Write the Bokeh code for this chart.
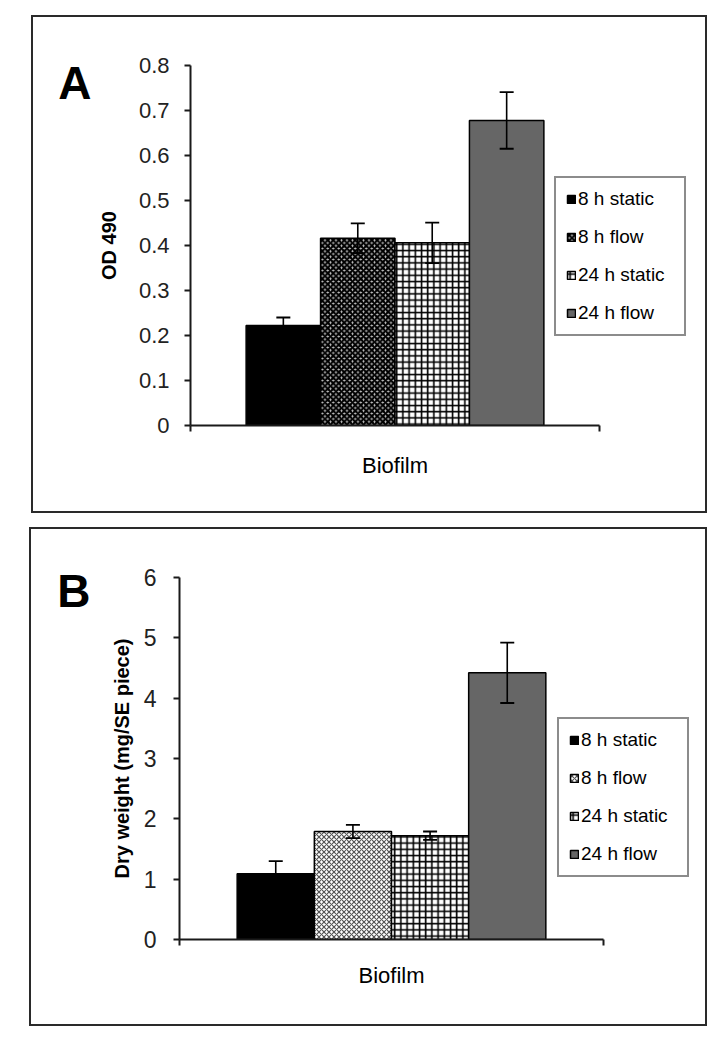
from bokeh.plotting import figure
from bokeh.models import (Range1d, FixedTicker, Legend, LegendItem, Whisker, TeeHead,
                          ColumnDataSource, LinearAxis)
from bokeh.embed import file_html
from bokeh.resources import INLINE

# ---------------- data ----------------
groups = ["8 h static", "8 h flow", "24 h static", "24 h flow"]
category = "Biofilm"

od490 = [0.222, 0.416, 0.406, 0.678]
od490_err = [0.018, 0.033, 0.045, 0.063]

dry_weight = [1.09, 1.79, 1.72, 4.42]
dry_weight_err = [0.21, 0.11, 0.07, 0.50]

ticks_a = [0, 0.1, 0.2, 0.3, 0.4, 0.5, 0.6, 0.7, 0.8]
tick_labels_a = ["0", "0.1", "0.2", "0.3", "0.4", "0.5", "0.6", "0.7", "0.8"]
ticks_b = [0, 1, 2, 3, 4, 5, 6]
tick_labels_b = ["0", "1", "2", "3", "4", "5", "6"]

# ---------------- styles ----------------
FONT = "Liberation Sans"
INK = "#1a1a1a"
BAR_W = 0.182

styles_a = [
    dict(fill_color="black"),
    dict(fill_color="#c4c4c4", hatch_pattern="diagonal_cross", hatch_color="black",
         hatch_weight=2.2, hatch_scale=5.5),
    dict(fill_color="white", hatch_pattern="cross", hatch_color="black",
         hatch_weight=1.6, hatch_scale=6.2),
    dict(fill_color="#666666"),
]
styles_b = [
    dict(fill_color="black"),
    dict(fill_color="white", hatch_pattern="diagonal_cross", hatch_color="#555555",
         hatch_weight=1.2, hatch_scale=5.0),
    dict(fill_color="white", hatch_pattern="cross", hatch_color="black",
         hatch_weight=1.6, hatch_scale=6.2),
    dict(fill_color="#666666"),
]


def make_panel(vals, errs, ymax, ticks, tick_labels, ylabel, letter, letter_frac, bar_styles,
               width, height, bl, bt, fw_axis, fw, fh, legend_loc, letter_standoff,
               tick_size, ylabel_standoff, tick_standoff, xlabel_standoff, margin):
    p = figure(width=width, height=height, output_backend="svg", toolbar_location=None,
               x_range=Range1d(0, fw / fw_axis), y_range=Range1d(0, ymax),
               min_border_left=bl, min_border_top=bt,
               min_border_right=width - bl - fw, min_border_bottom=height - bt - fh,
               frame_width=fw, frame_height=fh,
               background_fill_color="white", border_fill_color="white")
    p.margin = margin
    p.styles = {"border": "2px solid #2a2a2a"}
    p.outline_line_color = None
    p.xgrid.visible = False
    p.ygrid.visible = False

    items = []
    for i, g in enumerate(groups):
        src = ColumnDataSource(dict(x=[0.5 + (i - 1.5) * BAR_W], top=[vals[i]]))
        r = p.vbar(x="x", top="top", width=BAR_W, source=src,
                   line_color="black", line_width=1.5, **bar_styles[i])
        items.append(LegendItem(label=g, renderers=[r]))

    wsrc = ColumnDataSource(dict(
        base=[0.5 + (i - 1.5) * BAR_W for i in range(len(groups))],
        upper=[v + e for v, e in zip(vals, errs)],
        lower=[v - e for v, e in zip(vals, errs)]))
    w = Whisker(base="base", upper="upper", lower="lower", source=wsrc,
                line_color="black", line_width=1.6,
                upper_head=TeeHead(size=14, line_color="black", line_width=1.8),
                lower_head=TeeHead(size=14, line_color="black", line_width=1.8))
    w.level = "overlay"
    p.add_layout(w)

    # axes
    for ax in (p.xaxis[0], p.yaxis[0]):
        ax.axis_line_width = 2
        ax.axis_line_color = INK
        ax.major_tick_line_width = 2
        ax.major_tick_line_color = INK
        ax.major_tick_out = 6
        ax.major_tick_in = 0
        ax.major_label_text_font = FONT
        ax.axis_label_text_font = FONT
        ax.axis_label_text_color = "black"
        ax.major_label_text_color = "#222222"

    # category axis: one category label centred under the bars, boundary ticks at ends
    p.xaxis.bounds = (0, 1)
    p.xaxis.ticker = FixedTicker(ticks=[0.5], minor_ticks=[0, 1])
    p.xaxis.major_label_overrides = {0.5: category}
    p.xaxis.major_tick_line_color = None
    p.xaxis.major_tick_out = 0
    p.xaxis.major_label_text_font_size = "22px"
    p.xaxis.major_label_text_color = "black"
    p.xaxis.major_label_standoff = xlabel_standoff
    p.xaxis.minor_tick_line_color = INK
    p.xaxis.minor_tick_line_width = 2
    p.xaxis.minor_tick_out = 6
    p.xaxis.minor_tick_in = 0

    p.yaxis.minor_tick_line_color = None
    p.yaxis.ticker = FixedTicker(ticks=ticks)
    p.yaxis.major_label_overrides = {t: s for t, s in zip(ticks, tick_labels)}
    p.yaxis.major_label_text_font_size = tick_size
    p.yaxis.major_label_standoff = tick_standoff
    p.yaxis.axis_label = ylabel
    p.yaxis.axis_label_text_font_size = "20px"
    p.yaxis.axis_label_text_font_style = "bold"
    p.yaxis.axis_label_standoff = ylabel_standoff

    # panel letter, set as the single label of an outer left axis
    ly = ymax * letter_frac
    letter_axis = LinearAxis(ticker=FixedTicker(ticks=[ly]),
                             major_label_overrides={ly: letter},
                             axis_line_color=None, major_tick_line_color=None,
                             minor_tick_line_color=None, major_tick_out=0, major_tick_in=0,
                             major_label_text_font=FONT, major_label_text_font_size="46px",
                             major_label_text_font_style="bold",
                             major_label_text_color="black",
                             major_label_standoff=letter_standoff)
    p.add_layout(letter_axis, "left")

    legend = Legend(items=items, location=legend_loc,
                    label_text_font=FONT, label_text_font_size="19px",
                    label_text_color="black", label_width=96,
                    glyph_width=10, glyph_height=10, label_height=20,
                    label_standoff=2, spacing=16, padding=10, margin=0,
                    border_line_color=INK, border_line_width=2,
                    background_fill_color="white", background_fill_alpha=1)
    p.add_layout(legend)
    return p


pA = make_panel(od490, od490_err, 0.8, ticks_a, tick_labels_a, "OD 490", "A", 0.952, styles_a,
                width=672, height=494, bl=157, bt=48, fw_axis=409, fw=505, fh=360,
                legend_loc=(364, 89), letter_standoff=3,
                tick_size="22px", ylabel_standoff=16, tick_standoff=15,
                xlabel_standoff=21, margin=(15, 0, 0, 31))
pB = make_panel(dry_weight, dry_weight_err, 6, ticks_b, tick_labels_b,
                "Dry weight (mg/SE piece)", "B", 0.964, styles_b,
                width=674, height=495, bl=148, bt=48, fw_axis=424, fw=512, fh=362,
                legend_loc=(378, 62), letter_standoff=17,
                tick_size="23px", ylabel_standoff=8, tick_standoff=17,
                xlabel_standoff=17, margin=(14, 0, 0, 29))

open("out.html", "w").write(file_html([pA, pB], INLINE))
